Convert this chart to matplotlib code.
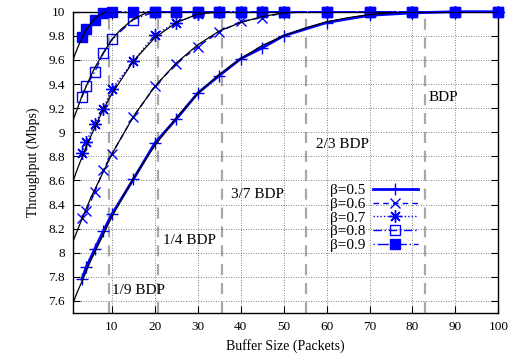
import matplotlib
matplotlib.use("Agg")
import matplotlib.pyplot as plt

plt.rcParams['font.family'] = ['Liberation Serif', 'DejaVu Serif']
plt.rcParams['font.size'] = 9

# measured throughput, buffer sizes in packets
buf = [3, 4, 6, 8, 10, 15, 20, 25, 30, 35, 40, 45, 50, 60, 70, 80, 90, 100]
thr_05 = [7.78, 7.88, 8.03, 8.18, 8.32, 8.61, 8.91, 9.11, 9.325, 9.47, 9.61, 9.70, 9.80, 9.91, 9.97, 9.99, 10, 10]
thr_06 = [8.29, 8.345, 8.50, 8.69, 8.82, 9.13, 9.38, 9.57, 9.71, 9.83, 9.92, 9.95, 9.99, 10, 10, 10, 10, 10]
thr_07 = [8.83, 8.92, 9.07, 9.19, 9.36, 9.59, 9.81, 9.91, 9.98, 10, 10, 10, 10, 10, 10, 10, 10, 10]
thr_08 = [9.29, 9.385, 9.50, 9.655, 9.77, 9.935, 10, 10, 10, 10, 10, 10, 10, 10, 10, 10, 10, 10]
thr_09 = [9.79, 9.86, 9.93, 9.99, 10, 10, 10, 10, 10, 10, 10, 10, 10, 10, 10, 10, 10, 10]

# model curves (black)
mx_05 = [1, 2, 3, 5, 10, 15, 20, 25, 30, 35, 40, 45, 50, 55, 60, 65, 70, 75, 80, 83, 100]
my_05 = [7.59, 7.68, 7.76, 7.93, 8.30, 8.62, 8.89, 9.12, 9.32, 9.48, 9.61, 9.72, 9.80, 9.865,
         9.915, 9.95, 9.976, 9.991, 9.999, 10, 10]
mx_06 = [1, 2, 3, 5, 10, 15, 20, 25, 30, 35, 40, 45, 50, 55.3, 100]
my_06 = [8.10, 8.19, 8.28, 8.45, 8.82, 9.13, 9.38, 9.575, 9.725, 9.84, 9.91, 9.96, 9.99, 10, 10]
mx_07 = [1, 2, 3, 4, 5, 6, 8, 10, 15, 20, 25, 30, 35.6, 100]
my_07 = [8.60, 8.70, 8.79, 8.88, 8.96, 9.04, 9.19, 9.32, 9.59, 9.785, 9.91, 9.98, 10, 10]
mx_08 = [1, 2, 3, 4, 5, 6, 8, 10, 12, 15, 18, 20.75, 100]
my_08 = [9.105, 9.20, 9.30, 9.38, 9.46, 9.535, 9.66, 9.77, 9.85, 9.94, 9.99, 10, 10]
mx_09 = [1, 1.5, 2, 3, 4, 5, 6, 7, 8, 9.2, 100]
my_09 = [9.607, 9.656, 9.70, 9.78, 9.85, 9.90, 9.94, 9.97, 9.99, 10, 10]

bdp_pos = [9.2, 20.75, 35.6, 55.3, 83]
bdp_labels = ['1/9 BDP', '1/4 BDP', '3/7 BDP', '2/3 BDP', 'BDP']
bdp_label_x = [9.9, 22.0, 37.7, 57.5, 83.7]
bdp_label_y = [7.69, 8.10, 8.48, 8.90, 9.29]

fig = plt.figure(figsize=(5.17, 3.61), dpi=100)
ax = fig.add_axes([0.1418, 0.133, 0.822, 0.8346])

for x in bdp_pos:
    ax.axvline(x, color='#a8a8a8', lw=1.6, ls=(0, (5, 3.5)), zorder=1)
for x, lab, y in zip(bdp_label_x, bdp_labels, bdp_label_y):
    ax.text(x, y, lab, va='center', ha='left', fontsize=11)

blue = '#0000ff'
series = [
    (thr_05, 'β=0.5', '-', '+', 2.0, 'none', 9),
    (thr_06, 'β=0.6', (0, (4, 3)), 'x', 1.0, 'none', 7.5),
    (thr_07, 'β=0.7', (0, (1, 1.5)), (8, 2, 0), 1.0, 'none', 9),
    (thr_08, 'β=0.8', (0, (6, 2, 1, 2)), 's', 1.0, 'none', 7),
    (thr_09, 'β=0.9', (0, (1, 2, 8, 2)), 's', 1.0, blue, 7),
]
for y, lab, ls, mk, lw, fc, ms in series:
    ax.plot(buf, y, color=blue, ls=ls, lw=lw, marker=mk, ms=ms, mfc=fc,
            mec=blue, mew=1.0, label=lab, clip_on=False, zorder=3)

for mx, my in [(mx_05, my_05), (mx_06, my_06), (mx_07, my_07), (mx_08, my_08), (mx_09, my_09)]:
    ax.plot(mx, my, color='k', lw=0.9, zorder=4)

ax.set_xlim(1, 100)
ax.set_ylim(7.5, 10)
ax.set_xticks(range(10, 101, 10))
ax.set_yticks([7.6 + 0.2 * i for i in range(13)])
ax.set_yticklabels(['7.6', '7.8', '8', '8.2', '8.4', '8.6', '8.8', '9', '9.2', '9.4', '9.6', '9.8', '10'])
ax.grid(True, color='#555555', lw=0.6, ls=(0, (1, 2)))
ax.tick_params(direction='in', top=True, right=True, length=5, width=0.8, labelsize=9.5, pad=6)
for sp in ax.spines.values():
    sp.set_linewidth(1.0)

ax.set_xlabel('Buffer Size (Packets)', fontsize=10, labelpad=4)
ax.set_ylabel('Throughput (Mbps)', fontsize=10, labelpad=6)

leg = ax.legend(loc='upper left', bbox_to_anchor=(0.585, 0.455), frameon=False,
                markerfirst=False, handlelength=2.95, handletextpad=0.5,
                labelspacing=0.0, borderpad=0, numpoints=1, fontsize=11)

fig.savefig('out.png', dpi=100)
